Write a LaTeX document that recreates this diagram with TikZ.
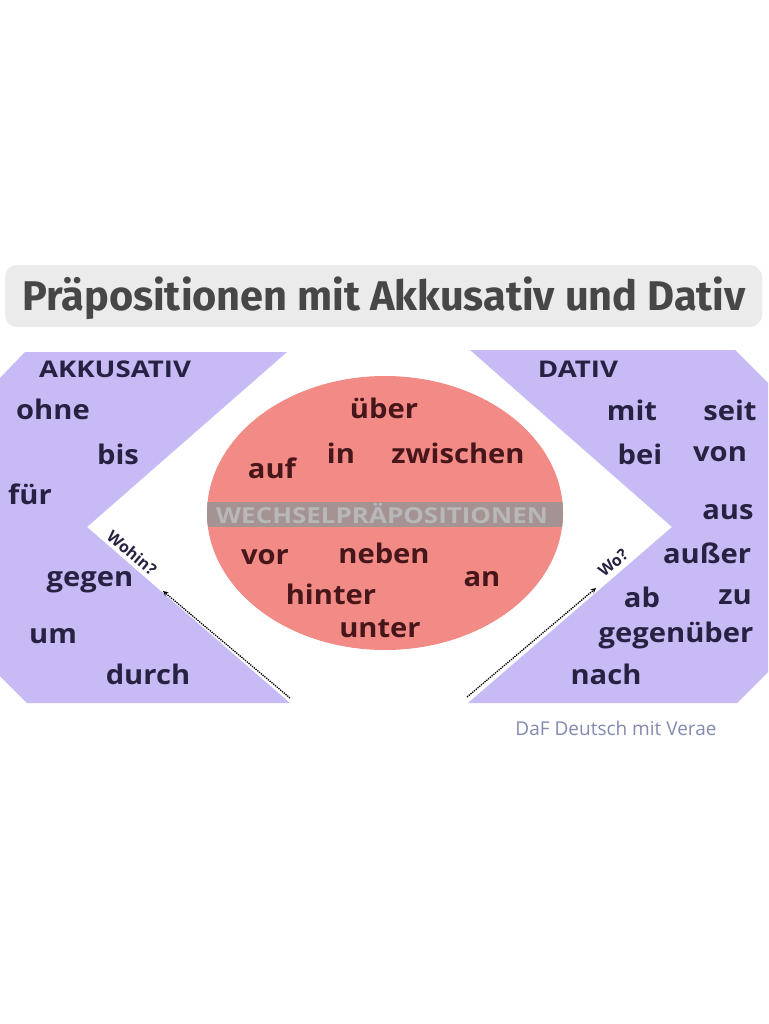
\documentclass[tikz,border=0pt]{standalone}
\usepackage{fontspec}
\setmainfont{Open Sans}
\newfontfamily\titlefont{Fira Sans}
\definecolor{lila}{RGB}{200,187,245}
\definecolor{lachs}{RGB}{242,138,133}
\definecolor{tinte}{RGB}{40,34,66}
\definecolor{wein}{RGB}{70,22,26}
\definecolor{band}{RGB}{165,146,146}
\definecolor{titelgrau}{RGB}{235,235,235}
\definecolor{quelle}{RGB}{130,138,175}
\tikzset{
  akkwort/.style={font=\bfseries\fontsize{27}{27}\selectfont, text=tinte, inner sep=0pt, xscale=1.08},
  wechselwort/.style={font=\bfseries\fontsize{27}{27}\selectfont, text=wein, inner sep=0pt, xscale=1.08},
  kopf/.style={font=\bfseries\fontsize{23}{23}\selectfont, text=tinte, inner sep=0pt, xscale=1.2},
  frage/.style={font=\bfseries\fontsize{16}{16}\selectfont, text=tinte, inner sep=0pt},
  pfeil/.style={densely dotted, line width=1.3pt, -stealth}
}
\begin{document}
\begin{tikzpicture}[x=1pt,y=-1pt]
  \useasboundingbox[fill=white] (0,0) rectangle (768,1024);

  % Titel
  \fill[titelgrau, rounded corners=12pt] (5,265) rectangle (762,327);
  \node[font=\titlefont\bfseries\fontsize{41.5}{41.5}\selectfont, text=black!72, inner sep=0pt] (titel) at (384,298) {Präpositionen mit Akkusativ und Dativ};

  % Akkusativ-Feld
  \fill[lila] (25,352) -- (287,352) -- (87,527) -- (290,703) -- (27,703) -- (0,676) -- (0,378) -- cycle;
  % Dativ-Feld
  \fill[lila] (470,350) -- (735,350) -- (768,383) -- (768,672) -- (737,703) -- (468,703) -- (672,527) -- cycle;

  % Wechselpraepositionen
  \fill[lachs] (385,513) ellipse (178 and 137);
  \draw[white, line width=5pt] (385,513) ellipse (181 and 140);
  \begin{scope}
    \clip (385,513) ellipse (178 and 137);
    \fill[band] (200,502) rectangle (570,527);
  \end{scope}
  \node[font=\bfseries\fontsize{22}{22}\selectfont, text=black!28, inner sep=0pt, xscale=1.18] (wechsel) at (382,514) {WECHSELPRÄPOSITIONEN};

  \node[kopf] (akk) at (115,369) {AKKUSATIV};
  \node[akkwort] (ohne) at (53,409) {ohne};
  \node[akkwort] (bis) at (118,454) {bis};
  \node[akkwort] (fuer) at (30,494) {für};
  \node[akkwort] (gegen) at (90,582) {gegen};
  \node[akkwort] (um) at (53,636) {um};
  \node[akkwort] (durch) at (148,674) {durch};

  \node[kopf] (dat) at (578,369) {DATIV};
  \node[akkwort] (mit) at (632,410) {mit};
  \node[akkwort] (seit) at (730,410) {seit};
  \node[akkwort] (bei) at (640,454) {bei};
  \node[akkwort] (von) at (720,454) {von};
  \node[akkwort] (aus) at (728,512) {aus};
  \node[akkwort] (ausser) at (707,553) {außer};
  \node[akkwort] (ab) at (642,597) {ab};
  \node[akkwort] (zu) at (735,597) {zu};
  \node[akkwort] (gegenueber) at (676,635) {gegenüber};
  \node[akkwort] (nach) at (606,674) {nach};

  \node[wechselwort] (ueber) at (384,408) {über};
  \node[wechselwort] (in) at (341,453) {in};
  \node[wechselwort] (zwischen) at (458,453) {zwischen};
  \node[wechselwort] (auf) at (272,468) {auf};
  \node[wechselwort] (vor) at (265,557) {vor};
  \node[wechselwort] (neben) at (384,553) {neben};
  \node[wechselwort] (an) at (482,579) {an};
  \node[wechselwort] (hinter) at (331,594) {hinter};
  \node[wechselwort] (unter) at (380,629) {unter};

  % Fragen mit Pfeilen
  \coordinate (wohinfuss) at (290,698);
  \coordinate (wohinspitze) at (163,591);
  \coordinate (wofuss) at (467,697);
  \coordinate (wospitze) at (596,588);
  \draw[pfeil] (wohinfuss) -- (wohinspitze);
  \draw[pfeil] (wofuss) -- (wospitze);
  \node[frage, rotate=-40] (wohin) at (132,553) {Wohin?};
  \node[frage, rotate=40] (wo) at (613,563) {Wo?};

  \node[font=\fontsize{19}{19}\selectfont, text=quelle, inner sep=0pt] (quelle) at (616,728) {DaF Deutsch mit Verae};
\end{tikzpicture}
\end{document}
